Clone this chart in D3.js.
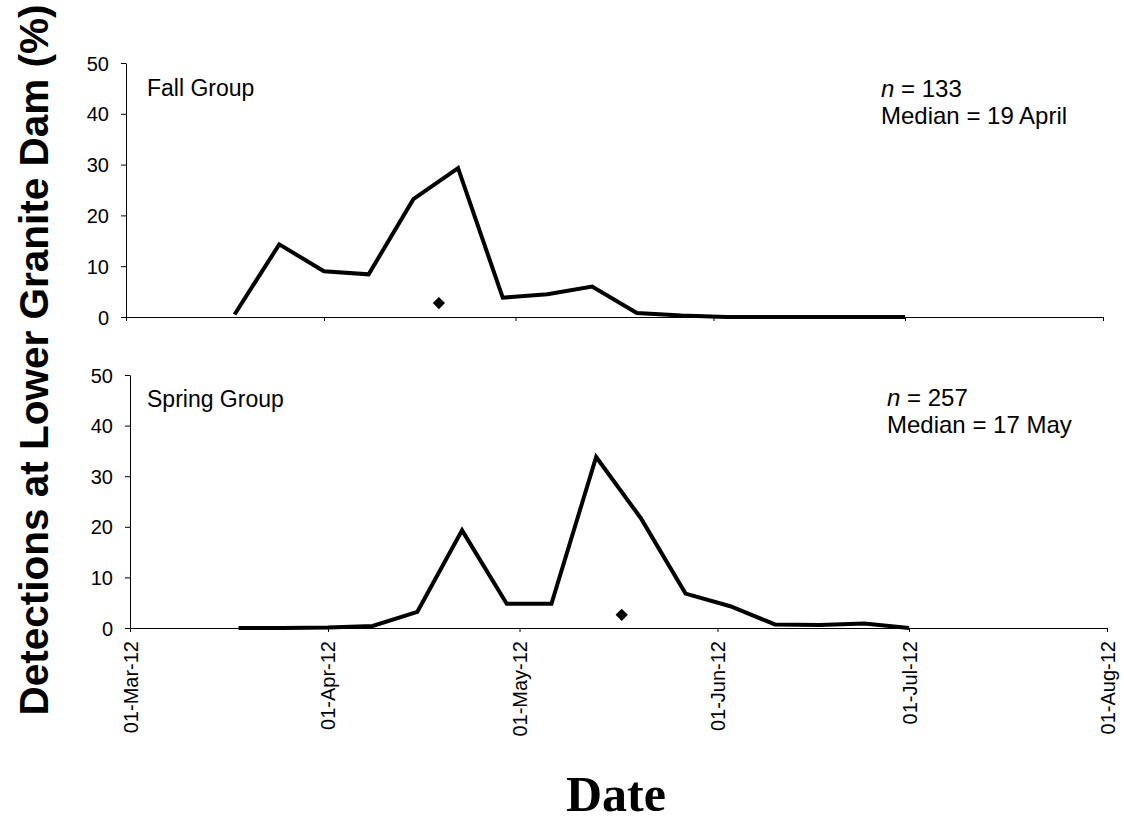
<!DOCTYPE html>
<html><head><meta charset="utf-8">
<script src="https://cdn.jsdelivr.net/npm/d3@7"></script>
<style>body{margin:0;background:#fff}svg{display:block}</style>
</head><body>
<script>
const dates = ["2012-03-18","2012-03-25","2012-04-01","2012-04-08","2012-04-15","2012-04-22","2012-04-29","2012-05-06","2012-05-13","2012-05-20","2012-05-27","2012-06-03","2012-06-10","2012-06-17","2012-06-24","2012-07-01"];
const fallValues   = [0.5, 14.3, 9.0, 8.4, 23.2, 29.3, 3.8, 4.5, 6.0, 0.8, 0.3, 0, 0, 0, 0, 0];
const springValues = [0, 0, 0.1, 0.4, 3.2, 19.3, 4.8, 4.8, 33.8, 21.7, 6.8, 4.3, 0.7, 0.6, 0.9, 0];
const fallMedian = {date:"2012-04-19", value:2.75};
const springMedian = {date:"2012-05-17", value:2.6};
const xTickDates = ["2012-03-01","2012-04-01","2012-05-01","2012-06-01","2012-07-01","2012-08-01"];
const yTicks = [0,10,20,30,40,50];
const panelTitles = ["Fall Group","Spring Group"];
const nLabels = ["133","257"];
const medianLabels = ["Median = 19 April","Median = 17 May"];

const W=1124,H=823;
const parse=d3.timeParse("%Y-%m-%d");
const fmt=d3.timeFormat("%d-%b-%y");
const svg=d3.select("body").append("svg").attr("width",W).attr("height",H);

const panels=[
 {x0:126,x1:1103,y0:317,y1:63,vals:fallValues,med:fallMedian,labels:false,tx:147,ty:96,nx:881,ny:97},
 {x0:130,x1:1107,y0:628,y1:375,vals:springValues,med:springMedian,labels:true,tx:147,ty:407,nx:887,ny:406}
];
const font="'Liberation Sans', Arial, sans-serif";
panels.forEach((p,i)=>{
  const x=d3.scaleTime().domain([parse(xTickDates[0]),parse(xTickDates[xTickDates.length-1])]).range([p.x0,p.x1]);
  const y=d3.scaleLinear().domain([0,50]).range([p.y0,p.y1]);
  const g=svg.append("g");
  const xa=g.append("g").attr("transform",`translate(0,${p.y0})`)
    .call(d3.axisBottom(x).tickValues(xTickDates.map(parse)).tickSize(4).tickSizeOuter(0).tickFormat(p.labels?fmt:""));
  const ya=g.append("g").attr("transform",`translate(${p.x0},0)`)
    .call(d3.axisLeft(y).tickValues(yTicks).tickSize(5).tickSizeOuter(0).tickPadding(12));
  [xa,ya].forEach(a=>{a.selectAll("path,line").attr("stroke","#000").attr("stroke-width",1);
    a.selectAll("text").attr("font-family",font).attr("font-size",20).attr("fill","#000");});
  ya.selectAll("text").attr("dy","0.35em");
  if(p.labels){
    xa.selectAll("text").attr("transform","rotate(-90)").attr("text-anchor","end")
      .attr("x",-13).attr("y",0).attr("dy","0.35em");
  }
  const line=d3.line().x((d,j)=>x(parse(dates[j]))).y(d=>y(d));
  g.append("path").datum(p.vals).attr("d",line).attr("fill","none").attr("stroke","#000")
    .attr("stroke-width",4).attr("stroke-linejoin","miter");
  g.append("path").attr("d",d3.symbol(d3.symbolSquare,75)())
    .attr("transform",`translate(${x(parse(p.med.date))},${y(p.med.value)}) rotate(45)`).attr("fill","#000");
  g.append("text").attr("x",p.tx).attr("y",p.ty).attr("font-family",font).attr("font-size",23).text(panelTitles[i]);
  const t=g.append("text").attr("x",p.nx).attr("y",p.ny).attr("font-family",font).attr("font-size",24);
  t.append("tspan").attr("font-style","italic").text("n");
  t.append("tspan").text(" = "+nLabels[i]);
  g.append("text").attr("x",p.nx).attr("y",p.ny+27).attr("font-family",font).attr("font-size",24)
    .text(medianLabels[i]);
});
svg.append("text").attr("transform","translate(48,360) rotate(-90)").attr("text-anchor","middle")
  .attr("font-family",font).attr("font-weight","bold").attr("font-size",40.5).text("Detections at Lower Granite Dam (%)");
svg.append("text").attr("x",616).attr("y",811).attr("text-anchor","middle")
  .attr("font-family","'Liberation Serif','Times New Roman',serif").attr("font-weight","bold").attr("font-size",50).text("Date");
</script>
</body></html>
